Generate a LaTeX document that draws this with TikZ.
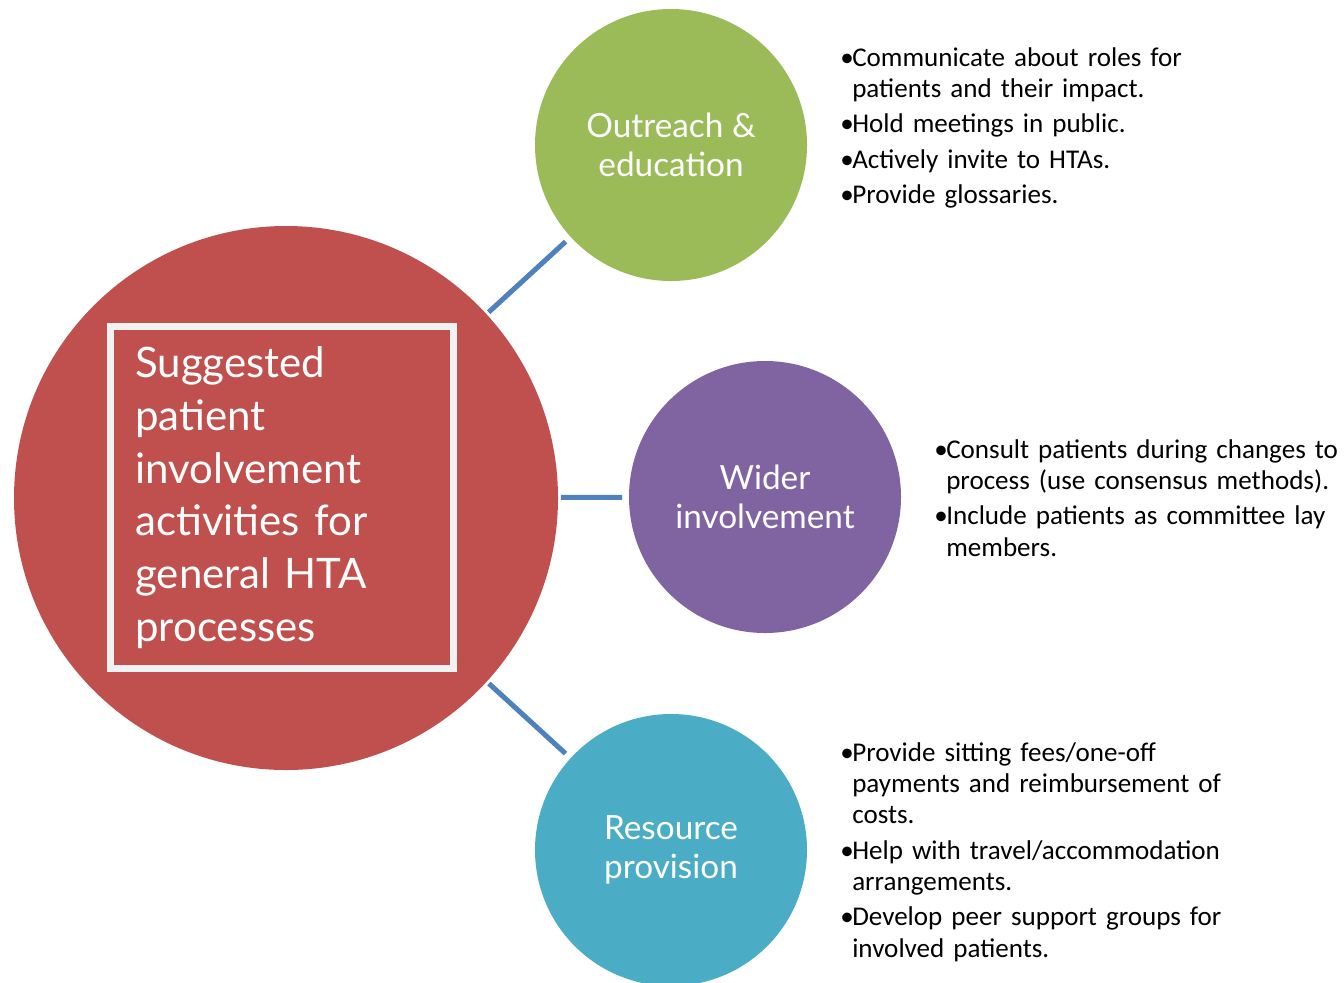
\documentclass[tikz,border=0pt]{standalone}
\usepackage{fontspec}
\setmainfont{Carlito}
\newfontfamily\headfont{Lato}
\usetikzlibrary{positioning, shadows}
\definecolor{hubred}{HTML}{C0504D}
\definecolor{outgreen}{HTML}{9BBB59}
\definecolor{widepurple}{HTML}{8064A2}
\definecolor{restteal}{HTML}{4BACC6}
\definecolor{linkblue}{HTML}{4F81BD}
\definecolor{framewhite}{HTML}{F2F2F2}
\newcommand{\pitem}[1]{\hangindent=9pt\hangafter=1\noindent
  \makebox[9pt][l]{\textbullet}#1\par}

\begin{document}
\begin{tikzpicture}[x=0.75pt, y=-0.75pt,
  hub/.style={circle, fill=hubred, minimum size=408pt, inner sep=0pt},
  topic/.style={circle, minimum size=204pt, inner sep=0pt, text=white,
    align=center, font=\headfont\fontsize{25}{29.5}\selectfont},
  notes/.style={anchor=north west, inner sep=0pt, text width=320pt, align=left,
    font=\fontsize{20.3}{23.5}\selectfont\setlength{\parskip}{3pt}},
  link/.style={draw=linkblue, line width=3.8pt, shorten <=2pt, shorten >=5pt}]
  \useasboundingbox (0,0) rectangle (1344,982);

  \node (hub) [hub] at (286,498) {};
  \node (title) [fill=hubred, draw=framewhite, line width=5pt,
    minimum width=257pt, minimum height=256.5pt, text width=220pt,
    align=left, text=white, font=\headfont\fontsize{31.5}{39.5}\selectfont,
    drop shadow={fill=black, opacity=0.3, shadow xshift=2.5pt, shadow yshift=-2.5pt}]
    at (282,497.5)
    {Suggested\\patient\\involvement\\activities for\\general HTA\\processes};

  \node (outreach) [topic, fill=outgreen] at (671,145) {Outreach \&\\education};
  \node (wider) [topic, fill=widepurple] at (765,497) {Wider\\involvement};
  \node (resource) [topic, fill=restteal] at (671,850) {Resource\\provision};

  \draw[link] (hub) -- (outreach);
  \draw[link] (hub) -- (wider);
  \draw[link] (hub) -- (resource);

  \node (outnotes) [notes] at (840,47) {%
    \pitem{Communicate about roles for\newline patients and their impact.}
    \pitem{Hold meetings in public.}
    \pitem{Actively invite to HTAs.}
    \pitem{Provide glossaries.}};
  \node (widenotes) [notes] at (934,439) {%
    \pitem{Consult patients during changes to\newline process (use consensus methods).}
    \pitem{Include patients as committee lay\newline members.}};
  \node (restnotes) [notes] at (840,742) {%
    \pitem{Provide sitting fees/one-off\newline payments and reimbursement of\newline costs.}
    \pitem{Help with travel/accommodation\newline arrangements.}
    \pitem{Develop peer support groups for\newline involved patients.}};
\end{tikzpicture}
\end{document}
